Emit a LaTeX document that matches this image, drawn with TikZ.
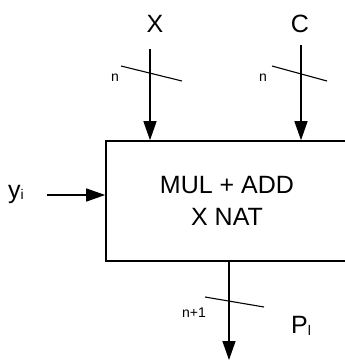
\documentclass[tikz,border=0pt]{standalone}
\usepackage{fontspec}
\setmainfont{Liberation Sans}
\usetikzlibrary{positioning,arrows.meta,calc}

\begin{document}
\begin{tikzpicture}[
    x=1pt, y=-1pt,
    big/.style={font=\fontsize{25}{32}\selectfont, inner sep=0pt},
    small/.style={font=\fontsize{14}{14}\selectfont, inner sep=0pt},
    unit/.style={draw, line width=1.6pt, minimum width=242pt, minimum height=120pt,
                 align=center, font=\fontsize{25}{32}\selectfont},
    sig/.style={-{Triangle[length=19pt,width=13pt]}, line width=1.3pt},
    bus/.style={line width=1.1pt},
]
\useasboundingbox (0,0) rectangle (345,360);
\clip (0,0) rectangle (345,360);

% ---- Block ----
\node[unit] (box) at (227,201) {MUL + ADD\\X NAT};

% ---- Inputs ----
\node[big] (labX) at (155,24) {X};
\node[big] (labC) at (300,24) {C};
\coordinate (xin) at (150,49);
\coordinate (cin) at (301,45);
\draw[sig] (xin) -- (xin |- box.north);
\draw[sig] (cin) -- (cin |- box.north);
\draw[bus] (121,66) -- (182,81);
\draw[bus] (272,66) -- (327,81);
\node[small] (nX) at (115,78) {n};
\node[small] (nC) at (263,78) {n};

\node[big, anchor=base west] (laby) at (8,198) {y\raisebox{-1pt}{\fontsize{14}{14}\selectfont i}};
\coordinate (yin) at (47,195);
\draw[sig] (yin) -- (yin -| box.west);

% ---- Output ----
\coordinate (pout) at (229,360);
\draw[sig] (pout |- box.south) -- (pout);
\draw[bus] (205,297) -- (264,307);
\node[small] (nP) at (194,313) {n+1};
\node[big, anchor=base west] (labP) at (291,333) {P\raisebox{-2pt}{\fontsize{14}{14}\selectfont l}};

\end{tikzpicture}
\end{document}
